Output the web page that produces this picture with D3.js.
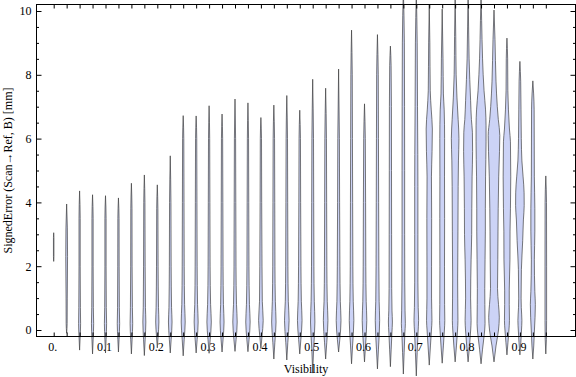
<!DOCTYPE html>
<html>
<head>
<meta charset="utf-8">
<title>SignedError vs Visibility</title>
<style>
body { margin: 0; background: #fff; }
svg text { font-family: "Liberation Serif", "Times New Roman", serif; fill: #000; }
</style>
</head>
<body>
<script src="https://d3js.org/d3.v7.min.js"></script>
<script>
'use strict'

const w = 576
const h = 377

// visibility bins (one violin each)
const visibility = [0, 0.025, 0.05, 0.075, 0.1, 0.125, 0.15, 0.175, 0.2, 0.225,
  0.25, 0.275, 0.3, 0.325, 0.35, 0.375, 0.4, 0.425, 0.45, 0.475,
  0.5, 0.525, 0.55, 0.575, 0.6, 0.625, 0.65, 0.675, 0.7, 0.725,
  0.75, 0.775, 0.8, 0.825, 0.85, 0.875, 0.9, 0.925, 0.95]

const xTickValues = [0, 0.1, 0.2, 0.3, 0.4, 0.5, 0.6, 0.7, 0.8, 0.9]
const xTickLabels = ["0.", "0.1", "0.2", "0.3", "0.4", "0.5", "0.6", "0.7", "0.8", "0.9"]
const yTickValues = [0, 2, 4, 6, 8, 10]

// violin profiles: [signed error (mm), density] from min to max
const violins = [
  [[2.15, 0], [2.3, 0.25], [2.9, 0.25], [3.05, 0]],
  [[-0.1, 0], [0.2, 0.5], [1.0, 0.6], [2.3, 0.9], [3.2, 0.7], [3.95, 0]],
  [[-0.63, 0], [-0.2, 0.6], [0.2, 1.0], [0.7, 0.8], [2, 0.6], [3.5, 0.6], [4.36, 0]],
  [[-0.75, 0], [-0.3, 0.6], [0.2, 1.1], [0.7, 0.8], [2, 0.6], [3.5, 0.6], [4.24, 0]],
  [[-0.72, 0], [-0.3, 0.6], [0.2, 1.1], [0.7, 0.8], [2, 0.6], [3.5, 0.6], [4.21, 0]],
  [[-0.69, 0], [-0.3, 0.6], [0.2, 1.2], [0.7, 0.9], [2, 0.7], [3.5, 0.6], [4.14, 0]],
  [[-0.75, 0], [-0.3, 0.7], [0.2, 1.3], [0.7, 1.0], [2, 0.7], [3.8, 0.6], [4.6, 0]],
  [[-0.8, 0], [-0.3, 0.8], [0.25, 1.5], [0.7, 1.1], [2, 0.8], [4, 0.6], [4.86, 0]],
  [[-0.56, 0], [-0.2, 0.8], [0.25, 1.6], [0.7, 1.2], [2, 0.8], [3.8, 0.6], [4.55, 0]],
  [[-0.72, 0], [-0.3, 0.9], [0.25, 1.8], [0.7, 1.3], [2, 0.9], [4, 0.7], [5.46, 0]],
  [[-0.81, 0], [-0.3, 1.0], [0.25, 2.0], [0.8, 1.4], [2, 1.0], [4, 0.8], [6, 0.6], [6.72, 0]],
  [[-0.72, 0], [-0.3, 1.0], [0.25, 2.0], [0.8, 1.4], [2, 1.0], [4, 0.8], [6, 0.6], [6.71, 0]],
  [[-0.73, 0], [-0.3, 1.1], [0.25, 2.2], [0.8, 1.5], [2, 1.0], [4, 0.8], [6, 0.6], [7.03, 0]],
  [[-0.69, 0], [-0.3, 1.0], [0.25, 2.0], [0.8, 1.4], [2, 1.0], [4, 0.8], [6, 0.6], [6.77, 0]],
  [[-0.67, 0], [-0.3, 1.1], [0.25, 2.2], [0.8, 1.5], [2, 1.0], [4, 0.8], [6, 0.6], [7.24, 0]],
  [[-0.68, 0], [-0.3, 1.1], [0.25, 2.2], [0.8, 1.5], [2, 1.0], [4, 0.8], [6, 0.6], [7.12, 0]],
  [[-0.58, 0], [-0.2, 1.1], [0.3, 2.3], [0.9, 1.4], [2, 1.1], [4, 0.8], [6, 0.6], [6.66, 0]],
  [[-0.91, 0], [-0.4, 1.0], [0.25, 2.2], [0.9, 1.5], [2, 1.1], [4, 0.9], [6, 0.7], [7.05, 0]],
  [[-0.94, 0], [-0.4, 1.0], [0.3, 2.3], [0.9, 1.5], [2, 1.1], [4, 0.9], [6, 0.7], [7.35, 0]],
  [[-0.75, 0], [-0.3, 1.1], [0.3, 2.3], [0.9, 1.6], [2, 1.2], [4, 0.9], [6, 0.7], [6.89, 0]],
  [[-1.35, 0], [-0.6, 0.9], [0.25, 2.2], [0.9, 1.6], [2, 1.2], [4, 1.0], [6, 0.8], [7.86, 0]],
  [[-0.91, 0], [-0.4, 1.1], [0.3, 2.3], [0.9, 1.6], [2, 1.2], [4, 1.0], [6, 0.8], [7.58, 0]],
  [[-0.69, 0], [-0.3, 1.2], [0.3, 2.4], [0.9, 1.7], [2, 1.3], [4, 1.0], [6, 0.8], [8.18, 0]],
  [[-1.06, 0], [-0.5, 1.0], [0.3, 2.3], [0.9, 1.7], [2, 1.3], [4, 1.1], [6, 0.9], [8, 0.7], [9.40, 0]],
  [[-1.0, 0], [-0.5, 1.0], [0.3, 2.3], [0.9, 1.7], [2, 1.3], [4, 1.1], [6, 0.8], [7.09, 0]],
  [[-1.22, 0], [-0.6, 1.0], [0.3, 2.2], [0.9, 1.7], [2, 1.4], [4, 1.2], [6, 1.0], [8, 0.8], [9.26, 0]],
  [[-1.15, 0], [-0.6, 0.8], [-0.1, 1.5], [0.25, 2.0], [0.6, 1.6], [1.3, 1.3], [3, 1.2], [5, 1.1], [7, 1.0], [8.3, 0.7], [8.9, 0]],
  [[-1.38, 0], [-0.7, 0.8], [-0.1, 1.5], [0.2, 2.0], [0.6, 1.7], [1.5, 1.4], [3, 1.3], [5, 1.3], [7, 1.2], [9, 1.0], [10.7, 0]],
  [[-1.44, 0], [-0.7, 0.9], [-0.1, 1.7], [0.3, 2.3], [0.7, 1.9], [1.5, 1.6], [3, 1.6], [4.5, 1.6], [5.5, 1.5], [7, 1.2], [9, 0.9], [10.6, 0]],
  [[-1.1, 0], [-0.5, 1.2], [0, 2.2], [0.3, 2.7], [1, 2.3], [2, 2.3], [3.5, 2.4], [4.8, 2.2], [5.6, 2.8], [6.3, 3.1], [6.9, 2.0], [7.5, 1.0], [9, 0.6], [10.2, 0]],
  [[-1.04, 0], [-0.5, 1.2], [0, 2.2], [0.3, 2.6], [0.8, 2.4], [2, 2.3], [3.5, 2.4], [4.8, 2.3], [6, 2.4], [6.9, 2.0], [7.4, 1.2], [8.5, 0.8], [10.06, 0]],
  [[-1.0, 0], [-0.5, 1.3], [0, 2.4], [0.3, 2.8], [1, 2.6], [1.6, 2.5], [3.1, 2.8], [4.5, 3.0], [5.3, 3.3], [6.0, 3.8], [6.6, 3.0], [7.3, 1.8], [8, 1.0], [9.2, 0.6], [10.5, 0]],
  [[-1.0, 0], [-0.5, 1.4], [0, 2.6], [0.3, 3.0], [1.0, 2.5], [2.2, 3.0], [3.0, 3.6], [3.8, 3.7], [4.8, 4.0], [5.6, 4.5], [6.2, 4.3], [6.6, 3.3], [7.2, 2.5], [8.5, 1.0], [9.5, 0.5], [10.7, 0]],
  [[-1.06, 0], [-0.6, 1.5], [-0.2, 3.0], [0.2, 4.0], [0.8, 3.8], [1.3, 3.7], [2.2, 4.0], [3.1, 4.3], [3.8, 4.3], [4.8, 4.5], [5.9, 5.0], [6.4, 5.0], [6.9, 4.5], [7.5, 3.0], [8.5, 1.5], [9.7, 0.6], [10.5, 0]],
  [[-1.0, 0], [-0.5, 2.0], [0, 4.5], [0.4, 5.3], [0.8, 4.5], [1.3, 3.5], [2.2, 3.8], [3.1, 4.0], [3.8, 4.2], [4.8, 4.7], [5.6, 5.5], [6.1, 5.8], [6.6, 4.3], [7.0, 3.3], [7.8, 2.0], [9.1, 1.0], [10.03, 0]],
  [[-0.78, 0], [-0.4, 1.0], [0, 2.0], [0.3, 2.5], [0.8, 2.3], [1.25, 2.3], [2.2, 3.0], [3.1, 3.1], [3.8, 3.5], [4.8, 3.8], [5.9, 3.5], [6.3, 2.5], [6.9, 1.5], [7.5, 0.9], [8.5, 0.7], [9.15, 0]],
  [[-0.78, 0], [-0.4, 0.9], [0, 1.6], [0.3, 2.0], [0.7, 1.4], [1.0, 1.2], [1.9, 1.5], [2.8, 2.8], [3.45, 3.5], [3.9, 4.3], [4.3, 4.2], [4.8, 3.2], [5.3, 2.0], [6.0, 1.4], [6.9, 1.1], [7.8, 0.8], [8.42, 0]],
  [[-0.91, 0], [-0.5, 0.9], [0, 1.6], [0.4, 2.2], [0.8, 2.5], [1.2, 2.0], [2.2, 1.5], [3.1, 2.0], [3.8, 2.0], [4.8, 1.5], [6.9, 1.3], [7.4, 0.8], [7.81, 0]],
  [[-0.75, 0], [-0.3, 0.6], [0.3, 0.8], [2, 0.8], [4, 0.7], [4.83, 0]]
]

const svg = d3.select("body")
  .append("svg")
  .attr("width", w)
  .attr("height", h)

// frame edges
const frameL = 36.5, frameR = 575.5, frameT = 4.5, frameB = 336.5

const x = d3.scaleLinear().domain([0, 0.95]).range([53.7, 545.8])
const y = d3.scaleLinear().domain([0, 10]).range([330, 11])
const maxDensity = d3.max(violins.flat(), d => d[1])
const halfWidth = d3.scaleLinear().domain([0, maxDensity]).range([0, 5.8])

// violins
const g = svg.append("g")
violins.forEach((prof, i) => {
  const cx = x(visibility[i])
  const area = d3.area()
    .curve(d3.curveMonotoneY)
    .y(d => y(d[0]))
    .x0(d => cx - halfWidth(d[1]))
    .x1(d => cx + halfWidth(d[1]))
  g.append("path")
    .datum(prof)
    .attr("d", area)
    .attr("fill", "#ccd3f6")
    .attr("stroke", "#3a3a3a")
    .attr("stroke-opacity", 0.75)
    .attr("stroke-width", 0.9)
})

// frame
svg.append("rect")
  .attr("x", frameL).attr("y", frameT)
  .attr("width", frameR - frameL).attr("height", frameB - frameT)
  .attr("fill", "none").attr("stroke", "#000").attr("stroke-width", 1)

function clean(sel) {
  sel.select(".domain").remove()
  sel.selectAll("line").attr("stroke", "#000")
}

// y axis: labelled major ticks, minor every 0.5
const yMinor = d3.range(0, 10.01, 0.5).filter(v => v % 2 !== 0)
svg.append("g").attr("transform", `translate(${frameL},0)`)
  .call(d3.axisLeft(y).tickValues(yTickValues).tickSize(-5).tickPadding(5).tickFormat(d3.format("d")))
  .call(clean)
  .selectAll("text").attr("font-size", 12).attr("font-family", null)
svg.append("g").attr("transform", `translate(${frameL},0)`)
  .call(d3.axisLeft(y).tickValues(yMinor).tickSize(-2.5).tickFormat(""))
  .call(clean)
svg.append("g").attr("transform", `translate(${frameR},0)`)
  .call(d3.axisRight(y).tickValues(yTickValues).tickSize(-5).tickFormat(""))
  .call(clean)
svg.append("g").attr("transform", `translate(${frameR},0)`)
  .call(d3.axisRight(y).tickValues(yMinor).tickSize(-2.5).tickFormat(""))
  .call(clean)

// x axis: a tick per violin, labels every 0.1
svg.append("g").attr("transform", `translate(0,${frameB})`)
  .call(d3.axisBottom(x).tickValues(visibility).tickSize(-4).tickFormat(""))
  .call(clean)
svg.append("g").attr("transform", `translate(0,${frameT})`)
  .call(d3.axisTop(x).tickValues(visibility).tickSize(-4).tickFormat(""))
  .call(clean)
svg.append("g").attr("transform", `translate(-1.5,${frameB})`)
  .call(d3.axisBottom(x).tickValues(xTickValues).tickSize(0).tickPadding(6)
    .tickFormat((d, i) => xTickLabels[i]))
  .call(clean)
  .selectAll("text").attr("font-size", 12).attr("font-family", null)

// axis titles
svg.append("text")
  .attr("x", (frameL + frameR) / 2)
  .attr("y", 373)
  .attr("text-anchor", "middle")
  .attr("font-size", 12)
  .text("Visibility")

svg.append("text")
  .attr("transform", `translate(11.5,${(frameT + frameB) / 2}) rotate(-90)`)
  .attr("text-anchor", "middle")
  .attr("font-size", 12)
  .text("SignedError (Scan\u2192Ref, B) [mm]")
</script>
</body>
</html>
